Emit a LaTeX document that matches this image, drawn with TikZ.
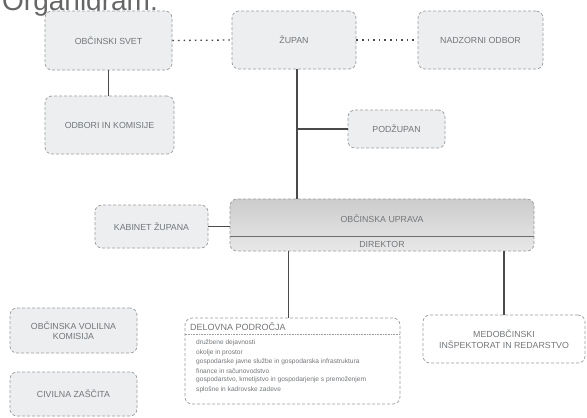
\documentclass[tikz,border=0pt]{standalone}
\usepackage{fontspec}
\setmainfont{Liberation Sans}
\definecolor{boxfill}{HTML}{ECEEF0}
\definecolor{boxline}{HTML}{9A9C9E}
\definecolor{txt}{HTML}{73767A}
\definecolor{conn}{HTML}{4A4A4A}
\begin{document}
\begin{tikzpicture}[x=1pt,y=-1pt,
  orgbox/.style={draw=boxline, line width=0.7pt, densely dashed, fill=boxfill, rounded corners=7pt,
    inner sep=0pt, text=txt, font=\fontsize{8.8}{10.5}\selectfont, align=center},
  conline/.style={draw=conn, line width=1.1pt},
  dotline/.style={draw=conn, line width=1.3pt, dash pattern=on 1.6pt off 4pt},
  item/.style={anchor=west, text=txt, inner sep=0pt, font=\fontsize{6.6}{7}\selectfont}
]
\useasboundingbox (0,0) rectangle (587,418);
\fill[white] (0,0) rectangle (587,418);
\begin{scope}
\clip (0,0) rectangle (587,418);
\node[anchor=base west, inner sep=0pt, text=gray!80!black, font=\fontsize{28}{30}\selectfont] (title) at (2,10) {Organigram:};
\end{scope}

% top row
\node[orgbox, minimum width=127pt, minimum height=59pt] (svet) at (108.5,40.5) {OBČINSKI SVET};
\node[orgbox, minimum width=124pt, minimum height=58pt] (zupan) at (294,40) {ŽUPAN};
\node[orgbox, minimum width=125pt, minimum height=58pt] (nadzor) at (480.5,40) {NADZORNI ODBOR};
\node[orgbox, minimum width=129pt, minimum height=58pt] (odbori) at (109.5,125) {ODBORI IN KOMISIJE};
\node[orgbox, minimum width=97pt, minimum height=38pt] (podzupan) at (396.5,129) {PODŽUPAN};
\node[orgbox, minimum width=113pt, minimum height=43pt] (kabinet) at (151.5,226.5) {KABINET ŽUPANA};

% uprava
\shade[top color=gray!40, bottom color=gray!18, rounded corners=7pt]
  (230,199) rectangle (534,251);
\draw[boxline, line width=0.7pt, densely dashed, rounded corners=7pt] (230,199) rectangle (534,251);
\node[minimum width=304pt, minimum height=52pt, inner sep=0pt] (uprava) at (382,225) {};
\draw[boxline!70!black, line width=1pt] (230,236) -- (534,236);
\node[text=txt, font=\fontsize{8.8}{10}\selectfont, inner sep=0pt] (upravatxt) at (382,219) {OBČINSKA UPRAVA};
\node[text=txt, font=\fontsize{8.8}{10}\selectfont, inner sep=0pt] (direktor) at (382,244) {DIREKTOR};

% bottom left
\node[orgbox, minimum width=127pt, minimum height=45pt] (volilna) at (73.5,330.5) {OBČINSKA VOLILNA\\KOMISIJA};
\node[orgbox, minimum width=127pt, minimum height=44pt] (civilna) at (73.5,394) {CIVILNA ZAŠČITA};

% delovna podrocja
\node[orgbox, fill=white, minimum width=215pt, minimum height=86pt] (delovna) at (292.5,361) {};
\node[anchor=west, text=txt, inner sep=0pt, font=\fontsize{9}{10}\selectfont] (deltitle) at (190,327) {DELOVNA PODROČJA};
\draw[boxline, line width=0.6pt, densely dotted] (delovna.west |- 0,334) -- (delovna.east |- 0,334);
\node[item] (i1) at (196,343) {družbene dejavnosti};
\node[item] (i2) at (196,352.5) {okolje in prostor};
\node[item] (i3) at (196,362) {gospodarske javne službe in gospodarska infrastruktura};
\node[item] (i4) at (196,371) {finance in računovodstvo};
\node[item] (i5) at (196,380) {gospodarstvo, kmetijstvo in gospodarjenje s premoženjem};
\node[item] (i6) at (196,389.5) {splošne in kadrovske zadeve};

% medobcinski
\node[orgbox, fill=white, minimum width=162pt, minimum height=48pt] (medob) at (504,339) {MEDOBČINSKI\\INŠPEKTORAT IN REDARSTVO};

% connectors
\draw[dotline] (svet.east) -- (zupan.west);
\draw[dotline] (zupan.east) -- (nadzor.west);
\draw[conline] (svet.south) -- (svet.south |- odbori.north);
\coordinate (zb) at ([xshift=3pt]zupan.south);
\draw[conline] (zb) -- (zb |- uprava.north);
\draw[conline] (zb |- podzupan.west) -- (podzupan.west);
\draw[conline] (kabinet.east) -- (uprava.west |- kabinet.east);
\coordinate (db) at ([xshift=-4pt]delovna.north);
\draw[conline] (db |- uprava.south) -- (db);
\draw[conline] (medob.north |- uprava.south) -- (medob.north);
\end{tikzpicture}
\end{document}
